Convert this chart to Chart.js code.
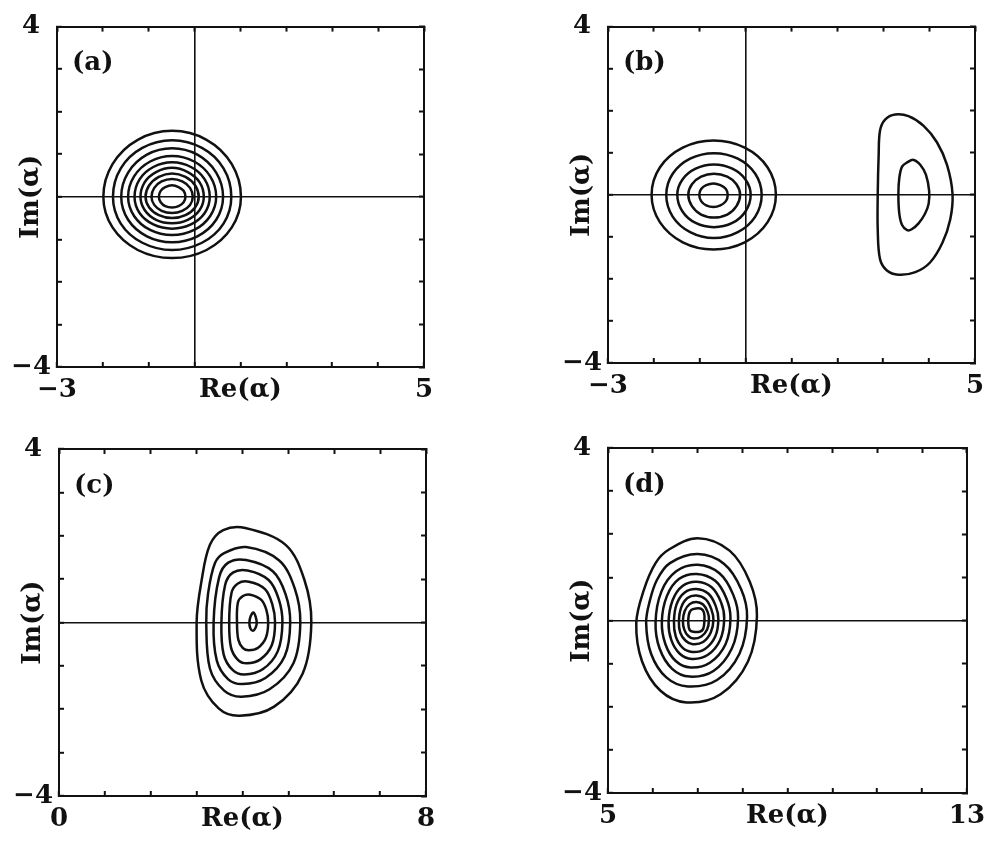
<!DOCTYPE html>
<html>
<head>
<meta charset="utf-8">
<script src="https://cdn.jsdelivr.net/npm/chart.js@4.4.0/dist/chart.umd.min.js"></script>
<style>
  body { margin: 0; background: #fff; }
  #page { position: relative; width: 998px; height: 842px; background: #fff; }
  #page canvas { position: absolute; }
</style>
</head>
<body>
<div id="page">
  <canvas id="panelA" width="499" height="421" style="left:0;top:0"></canvas>
  <canvas id="panelB" width="499" height="421" style="left:499px;top:0"></canvas>
  <canvas id="panelC" width="499" height="421" style="left:0;top:421px"></canvas>
  <canvas id="panelD" width="499" height="421" style="left:499px;top:421px"></canvas>
</div>
<script>
// axis ranges and labels
const panelTags = ['(a)', '(b)', '(c)', '(d)']
const reRanges = [[-3, 5], [-3, 5], [0, 8], [5, 13]]
const imRange = [-4, 4]
const reName = 'Re(\u03b1)'
const imName = 'Im(\u03b1)'

// contour lines, each one a closed list of [Re, Im] points
const contoursA = [
  [[1.01,0],[0.81,0.77],[0.26,1.34],[-0.49,1.55],[-1.24,1.34],[-1.79,0.77],[-1.99,0],[-1.79,-0.72],[-1.24,-1.25],[-0.49,-1.44],[0.26,-1.25],[0.81,-0.72]],
  [[0.80,0],[0.63,0.67],[0.16,1.15],[-0.49,1.33],[-1.14,1.15],[-1.61,0.67],[-1.78,0],[-1.61,-0.63],[-1.14,-1.08],[-0.49,-1.25],[0.16,-1.08],[0.63,-0.63]],
  [[0.62,0],[0.47,0.57],[0.06,0.99],[-0.49,1.14],[-1.04,0.99],[-1.45,0.57],[-1.60,0],[-1.45,-0.54],[-1.04,-0.93],[-0.49,-1.07],[0.06,-0.93],[0.47,-0.54]],
  [[0.47,0],[0.34,0.48],[-0.01,0.83],[-0.49,0.96],[-0.97,0.83],[-1.32,0.48],[-1.45,0],[-1.32,-0.45],[-0.97,-0.78],[-0.49,-0.90],[-0.01,-0.78],[0.34,-0.45]],
  [[0.33,0],[0.22,0.41],[-0.08,0.70],[-0.49,0.81],[-0.90,0.70],[-1.20,0.41],[-1.31,0],[-1.20,-0.38],[-0.90,-0.65],[-0.49,-0.75],[-0.08,-0.65],[0.22,-0.38]],
  [[0.20,0],[0.11,0.34],[-0.15,0.58],[-0.49,0.68],[-0.84,0.58],[-1.09,0.34],[-1.18,0],[-1.09,-0.31],[-0.84,-0.54],[-0.49,-0.62],[-0.15,-0.54],[0.11,-0.31]],
  [[0.09,0],[0.01,0.27],[-0.20,0.47],[-0.49,0.55],[-0.78,0.47],[-0.99,0.27],[-1.07,0],[-0.99,-0.25],[-0.78,-0.43],[-0.49,-0.50],[-0.20,-0.43],[0.01,-0.25]],
  [[-0.04,0],[-0.10,0.21],[-0.27,0.36],[-0.49,0.42],[-0.72,0.36],[-0.88,0.21],[-0.94,0],[-0.88,-0.19],[-0.72,-0.33],[-0.49,-0.38],[-0.27,-0.33],[-0.10,-0.19]],
  [[-0.20,0],[-0.24,0.14],[-0.35,0.23],[-0.49,0.27],[-0.64,0.23],[-0.74,0.14],[-0.78,0],[-0.74,-0.13],[-0.64,-0.22],[-0.49,-0.25],[-0.35,-0.22],[-0.24,-0.13]]
]

const contoursB = [
  [[0.66,0],[0.48,0.65],[-0.02,1.12],[-0.70,1.29],[-1.37,1.12],[-1.87,0.65],[-2.05,0],[-1.87,-0.65],[-1.37,-1.13],[-0.70,-1.30],[-0.02,-1.13],[0.48,-0.65]],
  [[0.35,0],[0.21,0.50],[-0.17,0.86],[-0.69,0.99],[-1.21,0.86],[-1.59,0.50],[-1.73,0],[-1.59,-0.52],[-1.21,-0.89],[-0.69,-1.03],[-0.17,-0.89],[0.21,-0.52]],
  [[0.11,0],[0.00,0.36],[-0.29,0.62],[-0.69,0.72],[-1.09,0.62],[-1.38,0.36],[-1.49,0],[-1.38,-0.39],[-1.09,-0.67],[-0.69,-0.77],[-0.29,-0.67],[0.00,-0.39]],
  [[-0.12,0],[-0.20,0.25],[-0.40,0.43],[-0.69,0.50],[-0.97,0.43],[-1.17,0.25],[-1.25,0],[-1.17,-0.27],[-0.97,-0.47],[-0.69,-0.54],[-0.40,-0.47],[-0.20,-0.27]],
  [[-0.39,0],[-0.43,0.14],[-0.55,0.23],[-0.70,0.27],[-0.86,0.23],[-0.97,0.14],[-1.01,0],[-0.97,-0.15],[-0.86,-0.25],[-0.70,-0.29],[-0.55,-0.25],[-0.43,-0.15]],
  [[4.51,0.02],[4.39,0.71],[4.17,1.25],[3.88,1.64],[3.55,1.87],[3.26,1.91],[3.04,1.79],[2.93,1.53],[2.90,0.95],[2.88,0.02],[2.88,-0.84],[2.93,-1.53],[3.08,-1.80],[3.33,-1.90],[3.70,-1.84],[4.02,-1.61],[4.29,-1.14],[4.46,-0.59]],
  [[4.00,0.10],[3.99,-0.21],[3.91,-0.45],[3.77,-0.68],[3.62,-0.82],[3.52,-0.84],[3.41,-0.72],[3.35,-0.45],[3.33,0.02],[3.35,0.40],[3.41,0.67],[3.52,0.77],[3.66,0.83],[3.81,0.71],[3.93,0.48]]
]

const contoursC = [
  [[5.50,0],[5.35,0.98],[4.94,1.79],[4.06,2.18],[3.58,2.13],[3.29,1.79],[3.11,0.98],[3.00,0],[3.10,-1.33],[3.48,-1.98],[3.94,-2.15],[4.69,-1.94],[5.31,-1.18]],
  [[5.26,0],[5.14,0.78],[4.80,1.43],[4.08,1.74],[3.60,1.60],[3.40,1.37],[3.25,0.67],[3.21,0],[3.29,-1.06],[3.60,-1.57],[3.98,-1.71],[4.59,-1.54],[5.11,-0.94]],
  [[5.04,0],[4.94,0.65],[4.66,1.18],[4.08,1.44],[3.69,1.38],[3.49,1.04],[3.37,0],[3.44,-0.88],[3.69,-1.31],[4.00,-1.42],[4.50,-1.28],[4.92,-0.78]],
  [[4.87,0],[4.79,0.54],[4.57,0.98],[4.11,1.20],[3.79,1.15],[3.62,0.86],[3.54,0],[3.59,-0.74],[3.79,-1.10],[4.04,-1.20],[4.44,-1.08],[4.77,-0.66]],
  [[4.71,0],[4.65,0.42],[4.49,0.77],[4.14,0.94],[3.90,0.90],[3.76,0.68],[3.71,0],[3.75,-0.58],[3.90,-0.86],[4.09,-0.94],[4.39,-0.85],[4.64,-0.52]],
  [[4.56,0],[4.52,0.29],[4.41,0.52],[4.17,0.64],[4.01,0.61],[3.90,0.46],[3.88,0],[3.91,-0.40],[4.01,-0.59],[4.14,-0.64],[4.34,-0.58],[4.51,-0.35]],
  [[4.31,0],[4.29,0.12],[4.24,0.23],[4.18,0.15],[4.15,0],[4.17,-0.13],[4.23,-0.19],[4.29,-0.11]]
]

const contoursD = [
  [[8.32,0.10],[8.16,0.90],[7.71,1.62],[7.00,1.91],[6.35,1.64],[6.06,1.33],[5.80,0.71],[5.63,-0.06],[5.76,-0.95],[6.17,-1.63],[6.75,-1.90],[7.51,-1.71],[8.12,-0.95]],
  [[8.10,0.08],[7.97,0.72],[7.59,1.31],[7.00,1.54],[6.38,1.33],[6.09,0.94],[5.93,0.45],[5.85,-0.05],[5.96,-0.77],[6.30,-1.32],[6.78,-1.53],[7.43,-1.38],[7.93,-0.77]],
  [[7.90,0.06],[7.79,0.60],[7.49,1.09],[7.00,1.29],[6.52,1.14],[6.19,0.67],[6.06,-0.04],[6.15,-0.65],[6.43,-1.12],[6.82,-1.30],[7.35,-1.17],[7.76,-0.65]],
  [[7.73,0.05],[7.64,0.51],[7.39,0.92],[6.98,1.08],[6.58,0.96],[6.31,0.56],[6.20,-0.03],[6.28,-0.55],[6.51,-0.94],[6.84,-1.09],[7.27,-0.98],[7.62,-0.55]],
  [[7.59,0.04],[7.52,0.42],[7.31,0.77],[6.98,0.90],[6.66,0.80],[6.44,0.47],[6.35,-0.03],[6.41,-0.45],[6.60,-0.77],[6.87,-0.89],[7.22,-0.80],[7.50,-0.45]],
  [[7.46,0.03],[7.40,0.34],[7.24,0.62],[6.97,0.73],[6.71,0.65],[6.53,0.38],[6.47,-0.02],[6.51,-0.37],[6.66,-0.63],[6.88,-0.73],[7.16,-0.66],[7.39,-0.37]],
  [[7.35,0.02],[7.30,0.27],[7.18,0.49],[6.97,0.58],[6.77,0.52],[6.63,0.30],[6.58,-0.02],[6.61,-0.28],[6.73,-0.47],[6.89,-0.55],[7.12,-0.50],[7.29,-0.28]],
  [[7.25,0.02],[7.22,0.20],[7.12,0.37],[6.97,0.43],[6.82,0.38],[6.71,0.22],[6.67,-0.01],[6.70,-0.21],[6.79,-0.36],[6.91,-0.42],[7.08,-0.37],[7.21,-0.21]],
  [[7.15,0.00],[7.14,0.18],[7.08,0.27],[6.96,0.28],[6.85,0.24],[6.80,0.12],[6.79,-0.08],[6.82,-0.22],[6.90,-0.26],[7.04,-0.26],[7.12,-0.20]]
]

const INK = '#111'
const CLEAR = 'rgba(0,0,0,0)'
const FONT = { family: '"DejaVu Serif", serif', size: 26, weight: 'bold' }
const TICK_IN = -5

const fmt = v => (v < 0 ? '\u2212' + Math.abs(v) : String(v))
const isZero = v => Math.abs(v) < 1e-9

// "(a)" etc. in the upper left corner of the plot box
const panelTagPlugin = {
  id: 'panelTag',
  afterDraw(chart, args, opts) {
    const { ctx, chartArea } = chart
    ctx.save()
    ctx.font = `${FONT.weight} ${FONT.size}px ${FONT.family}`
    ctx.fillStyle = INK
    ctx.textAlign = 'left'
    ctx.textBaseline = 'middle'
    ctx.fillText(opts.text, chartArea.left + 15, chartArea.top + 37)
    ctx.restore()
  }
}

// frame axes on top/right only carry the inward tick marks
function frameAxis(position, min, max, fit) {
  return {
    type: 'linear',
    position,
    min,
    max,
    afterFit: fit,
    border: { display: true, color: INK, width: 2 },
    grid: { drawOnChartArea: false, tickLength: TICK_IN, tickColor: INK, tickWidth: 2 },
    ticks: { stepSize: 1, display: false }
  }
}

// a closed contour: the ring is wrapped by one point on each side so the
// spline is smooth at the seam, and the two wrap segments are left clear
function ringDataset(ring) {
  const n = ring.length
  const pts = [ring[n - 1], ...ring, ring[0], ring[1]]
  const last = pts.length - 1
  return {
    data: pts.map(([x, y]) => ({ x, y })),
    showLine: true,
    fill: false,
    borderColor: INK,
    borderWidth: 2.5,
    pointRadius: 0,
    tension: 0.35,
    segment: {
      borderColor: c => (c.p0DataIndex === 0 || c.p1DataIndex === last ? CLEAR : INK)
    }
  }
}

function makePanel(id, tag, reRange, rings, padding) {
  const [xmin, xmax] = reRange
  const [ymin, ymax] = imRange
  const xmid = (xmin + xmax) / 2

  new Chart(document.getElementById(id), {
    type: 'scatter',
    data: { datasets: rings.map(ringDataset) },
    plugins: [panelTagPlugin],
    options: {
      responsive: false,
      animation: false,
      events: [],
      layout: { padding },
      plugins: {
        legend: { display: false },
        tooltip: { enabled: false },
        panelTag: { text: tag }
      },
      scales: {
        x: {
          type: 'linear',
          position: 'bottom',
          min: xmin,
          max: xmax,
          afterFit: s => { s.height = 44 },
          border: { display: true, color: INK, width: 2 },
          grid: {
            color: c => (c.tick && isZero(c.tick.value) ? INK : CLEAR),
            lineWidth: 1.6,
            tickLength: TICK_IN,
            tickColor: INK,
            tickWidth: 2
          },
          ticks: {
            stepSize: 1,
            autoSkip: false,
            maxRotation: 0,
            padding: 13,
            color: INK,
            font: FONT,
            callback: v => (v === xmin || v === xmax ? fmt(v) : v === xmid ? reName : '')
          }
        },
        y: {
          type: 'linear',
          position: 'left',
          min: ymin,
          max: ymax,
          afterFit: s => { s.width = 48 },
          border: { display: true, color: INK, width: 2 },
          grid: {
            color: c => (c.tick && isZero(c.tick.value) ? INK : CLEAR),
            lineWidth: 1.6,
            tickLength: TICK_IN,
            tickColor: INK,
            tickWidth: 2
          },
          ticks: {
            stepSize: 1,
            autoSkip: false,
            crossAlign: 'center',
            padding: 11,
            color: INK,
            font: FONT,
            callback: v => (v === ymin || v === ymax ? fmt(v) : '')
          },
          title: { display: true, text: imName, color: INK, font: FONT, padding: { top: 7 } }
        },
        x2: frameAxis('top', xmin, xmax, s => { s.height = 0 }),
        y2: frameAxis('right', ymin, ymax, s => { s.width = 0 })
      }
    }
  })
}

makePanel('panelA', panelTags[0], reRanges[0], contoursA, { left: 9, top: 21, right: 75, bottom: 10 })
makePanel('panelB', panelTags[1], reRanges[1], contoursB, { left: 61, top: 18, right: 23, bottom: 14 })
makePanel('panelC', panelTags[2], reRanges[2], contoursC, { left: 11, top: 28, right: 73, bottom: 2 })
makePanel('panelD', panelTags[3], reRanges[3], contoursD, { left: 61, top: 27, right: 23, bottom: 5 })
</script>
</body>
</html>
